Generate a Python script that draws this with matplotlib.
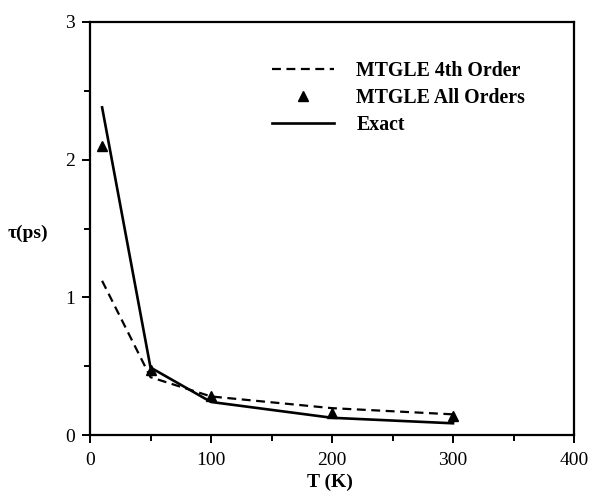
import matplotlib
matplotlib.use("Agg")
import matplotlib.pyplot as plt
from matplotlib.ticker import MultipleLocator

plt.rcParams['font.family'] = ['Liberation Serif', 'DejaVu Serif']

T = [10, 50, 100, 200, 300]
exact = [2.38, 0.49, 0.24, 0.125, 0.085]
fourth = [1.12, 0.42, 0.28, 0.195, 0.15]
all_T = [10, 50, 100, 200, 300]
all_orders = [2.10, 0.47, 0.28, 0.16, 0.14]

W, H = 592, 493
fig = plt.figure(figsize=(W / 100, H / 100), dpi=100)
ax = fig.add_axes([90 / W, 1 - 435 / H, (574 - 90) / W, (435 - 22) / H])

ax.plot(T, fourth, linestyle=(0, (4, 2.5)), color='black', lw=1.6, label='MTGLE 4th Order')
ax.plot(all_T, all_orders, linestyle='none', marker='^', color='black', ms=7, label='MTGLE All Orders')
ax.plot(T, exact, linestyle='-', color='black', lw=1.9, label='Exact')

ax.set_xlim(0, 400)
ax.set_ylim(0, 3)
ax.xaxis.set_major_locator(MultipleLocator(100))
ax.xaxis.set_minor_locator(MultipleLocator(50))
ax.yaxis.set_major_locator(MultipleLocator(1))
ax.yaxis.set_minor_locator(MultipleLocator(0.5))
ax.tick_params(which='both', direction='out', width=1.4, labelsize=14)
ax.tick_params(which='major', length=6)
ax.tick_params(which='minor', length=4)
ax.tick_params(axis='x', which='major', pad=6)
ax.tick_params(axis='y', which='major', pad=5)
for s in ax.spines.values():
    s.set_linewidth(1.6)

fig.text(330 / W, 1 - 482 / H, 'T (K)', fontsize=14, fontweight='bold', ha='center', va='center')
fig.text(28 / W, 1 - 233 / H, 'τ(ps)', fontsize=14, fontweight='bold', ha='center', va='center')

leg = ax.legend(loc='upper left', bbox_to_anchor=(272 / W, 1 - 61 / H),
                bbox_transform=fig.transFigure, frameon=False, borderpad=0,
                borderaxespad=0,
                prop={'weight': 'bold', 'size': 14.3}, handlelength=3.1,
                handletextpad=1.15, labelspacing=0.34)

fig.savefig('out.png', dpi=100)
